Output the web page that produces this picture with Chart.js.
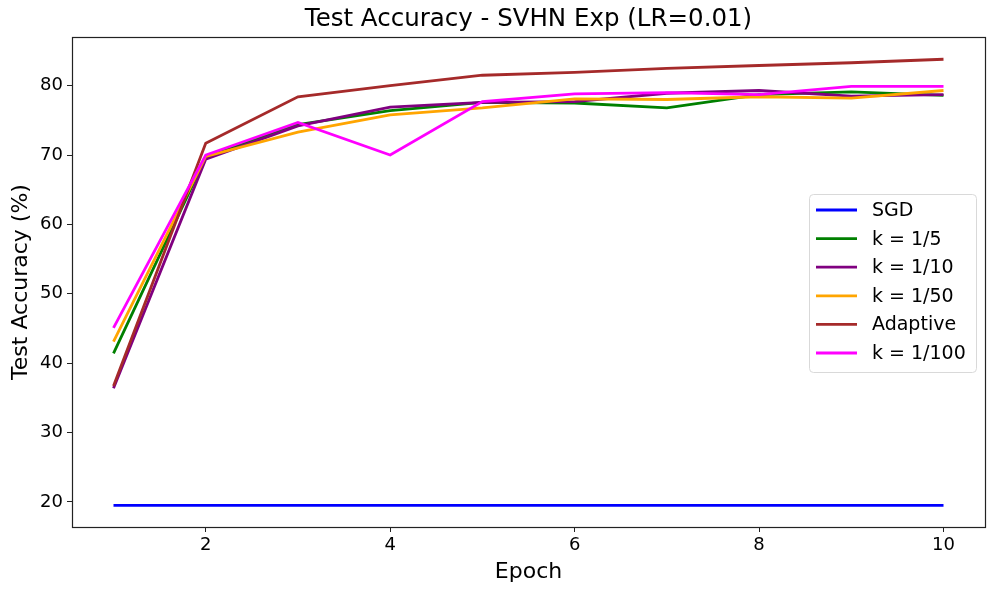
<!DOCTYPE html>
<html>
<head>
<meta charset="utf-8">
<script src="https://cdn.jsdelivr.net/npm/chart.js@4"></script>
<style>
	html, body { margin: 0; padding: 0; background: #fff; }
	#wrap { width: 996px; height: 594px; position: relative; }
</style>
</head>
<body>
<div id="wrap"><canvas id="acc-chart"></canvas></div>
<script>
// Data
const epochs = [1, 2, 3, 4, 5, 6, 7, 8, 9, 10];
const sgd = [19.5, 19.5, 19.5, 19.5, 19.5, 19.5, 19.5, 19.5, 19.5, 19.5];
const k5 = [41.4, 69.7, 74.4, 76.4, 77.6, 77.5, 76.8, 78.7, 79.1, 78.6];
const k10 = [36.4, 69.4, 74.2, 76.9, 77.6, 77.7, 78.9, 79.3, 78.5, 78.7];
const k50 = [43.1, 69.8, 73.3, 75.8, 76.8, 78.1, 78.0, 78.4, 78.2, 79.3];
const adaptive = [36.7, 71.7, 78.4, 80.0, 81.5, 81.9, 82.5, 82.9, 83.3, 83.8];
const k100 = [45.1, 70.0, 74.7, 70.0, 77.7, 78.8, 79.0, 78.7, 79.9, 79.9];

const xTicks = [2, 4, 6, 8, 10];
const yTicks = [20, 30, 40, 50, 60, 70, 80];

const seriesNames = ["SGD", "k = 1/5", "k = 1/10", "k = 1/50", "Adaptive", "k = 1/100"];
const seriesValues = [sgd, k5, k10, k50, adaptive, k100];
const seriesColors = ["#0000ff", "#008000", "#800080", "#ffa500", "#a52a2a", "#ff00ff"];

const FONT = "'DejaVu Sans', sans-serif";

// frame around the plot, title and the legend box (matplotlib style)
const mplDecor = {
	id: "mplDecor",
	afterDraw(chart) {
		const ctx = chart.ctx;
		const a = chart.chartArea;
		ctx.save();
		ctx.strokeStyle = "#222";
		ctx.lineWidth = 1.2;
		ctx.strokeRect(Math.round(a.left) + 0.5, Math.round(a.top) + 0.5,
			Math.round(a.right - a.left), Math.round(a.bottom - a.top));

		// title
		ctx.fillStyle = "#000";
		ctx.font = "24.5px " + FONT;
		ctx.textAlign = "center";
		ctx.textBaseline = "middle";
		ctx.fillText("Test Accuracy - SVHN Exp (LR=0.01)", (a.left + a.right) / 2, 20);

		// legend
		const bx = 809, by = 194, bw = 167, bh = 178;
		ctx.beginPath();
		ctx.roundRect(bx + 0.5, by + 0.5, bw, bh, 4);
		ctx.fillStyle = "rgba(255,255,255,0.8)";
		ctx.fill();
		ctx.strokeStyle = "#d9d9d9";
		ctx.lineWidth = 1;
		ctx.stroke();
		ctx.font = "19px " + FONT;
		ctx.textAlign = "left";
		seriesNames.forEach((name, i) => {
			const y = 210 + i * 28.6;
			ctx.strokeStyle = seriesColors[i];
			ctx.lineWidth = 2.8;
			ctx.beginPath();
			ctx.moveTo(816, y);
			ctx.lineTo(857, y);
			ctx.stroke();
			ctx.fillStyle = "#000";
			ctx.fillText(name, 872, y + 1);
		});
		ctx.restore();
	}
};

const datasets = seriesNames.map((name, i) => ({
	label: name,
	data: epochs.map((e, j) => ({ x: e, y: seriesValues[i][j] })),
	borderColor: seriesColors[i],
	backgroundColor: seriesColors[i],
	borderWidth: 2.8,
	pointRadius: 0,
	tension: 0,
	fill: false,
	order: seriesNames.length - i
}));

const ctx = document.getElementById("acc-chart").getContext("2d");
new Chart(ctx, {
	type: "line",
	data: { datasets: datasets },
	options: {
		responsive: true,
		maintainAspectRatio: false,
		animation: false,
		layout: { padding: { top: 37, right: 11, left: 0, bottom: 0 } },
		plugins: {
			legend: { display: false },
			title: { display: false },
			tooltip: { enabled: false }
		},
		scales: {
			x: {
				type: "linear",
				min: 0.55,
				max: 10.45,
				afterBuildTicks: (scale) => { scale.ticks = xTicks.map((v) => ({ value: v })); },
				afterFit: (scale) => { scale.height = 67; },
				grid: { display: true, drawOnChartArea: false, drawTicks: true, tickLength: 5, color: "#222" },
				border: { display: true, color: "#222" },
				ticks: { color: "#000", font: { family: FONT, size: 18 }, padding: 3, maxRotation: 0 },
				title: { display: true, text: "Epoch", color: "#000", font: { family: FONT, size: 22 }, padding: { top: 0, bottom: 9 } }
			},
			y: {
				min: 16.39,
				max: 87.01,
				afterBuildTicks: (scale) => { scale.ticks = yTicks.map((v) => ({ value: v })); },
				afterFit: (scale) => { scale.width = 72; },
				grid: { display: true, drawOnChartArea: false, drawTicks: true, tickLength: 5, color: "#222" },
				border: { display: true, color: "#222" },
				ticks: { color: "#000", font: { family: FONT, size: 18 }, padding: 4 },
				title: { display: true, text: "Test Accuracy (%)", color: "#000", font: { family: FONT, size: 22 }, padding: { top: 8, bottom: 0 } }
			}
		}
	},
	plugins: [mplDecor]
});
</script>
</body>
</html>
